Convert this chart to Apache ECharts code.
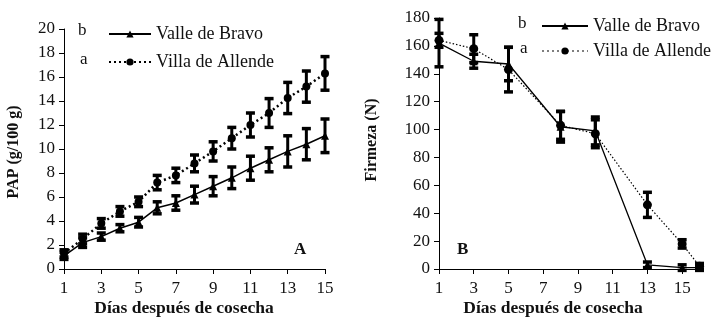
<!DOCTYPE html>
<html>
<head>
<meta charset="utf-8">
<script src="https://cdn.jsdelivr.net/npm/echarts@6.0.0/dist/echarts.min.js"></script>
<style>
  html, body { margin: 0; padding: 0; background: #fff; }
  #chart { width: 717px; height: 321px; }
</style>
</head>
<body>
<div id="chart"></div>
<script>
// panel A: PAP (g/100 g)
var diasA = [1, 2, 3, 4, 5, 6, 7, 8, 9, 10, 11, 12, 13, 14, 15];
var valleA = [1.1, 2.2, 2.7, 3.4, 3.9, 5.1, 5.5, 6.2, 6.9, 7.6, 8.4, 9.1, 9.8, 10.4, 11.1];
var valleAErr = [0.3, 0.4, 0.3, 0.3, 0.4, 0.5, 0.6, 0.7, 0.8, 0.9, 1.0, 1.0, 1.3, 1.3, 1.4];
var villaA = [1.3, 2.5, 3.8, 4.8, 5.6, 7.2, 7.8, 8.8, 9.8, 10.9, 12.0, 13.0, 14.25, 15.2, 16.3];
var villaAErr = [0.3, 0.4, 0.4, 0.4, 0.4, 0.6, 0.6, 0.7, 0.8, 0.9, 1.0, 1.2, 1.3, 1.3, 1.4];
// panel B: Firmeza (N)
var diasB = [1, 3, 5, 8, 10, 13, 15, 16];
var valleB = [162, 149, 147, 102, 99, 3, 1, 1];
var valleBErr = [17, 5, 12, 11, 10, 2, 2, 2];
var villaB = [164, 158, 143, 103, 97, 46, 18, 2];
var villaBErr = [5, 10, 16, 10, 10, 9, 3, 2];
var ticksX = [1, 3, 5, 7, 9, 11, 13, 15];

var serif = '"Liberation Serif", "Times New Roman", serif';
var ink = '#111';

function pares(x, y) {
    return x.map(function (d, i) { return [d, y[i]]; });
}
function barras(x, y, e) {
    return x.map(function (d, i) { return [d, y[i] - e[i], y[i] + e[i]]; });
}
function errorBar(params, api) {
    var top = api.coord([api.value(0), api.value(2)]);
    var bot = api.coord([api.value(0), api.value(1)]);
    var w = 4.5;
    var st = { stroke: '#000', lineWidth: 3 };
    var cap = { stroke: '#000', lineWidth: 3.5 };
    return {
        type: 'group',
        children: [
            { type: 'line', shape: { x1: top[0], y1: top[1], x2: bot[0], y2: bot[1] }, style: st },
            { type: 'line', shape: { x1: top[0] - w, y1: top[1], x2: top[0] + w, y2: top[1] }, style: cap },
            { type: 'line', shape: { x1: bot[0] - w, y1: bot[1], x2: bot[0] + w, y2: bot[1] }, style: cap }
        ]
    };
}

var axisTxt = { color: ink, fontFamily: serif, fontSize: 17 };
function ejeX(i, max) {
    return {
        type: 'value', gridIndex: i, min: 1, max: max, interval: 2,
        axisLine: { show: true, onZero: false, lineStyle: { color: '#000', width: 1 } },
        axisTick: { show: true, length: 5, customValues: ticksX, lineStyle: { color: '#000' } },
        axisLabel: Object.assign({ margin: 11, customValues: ticksX }, axisTxt),
        splitLine: { show: false }
    };
}
function ejeY(i, max, step) {
    return {
        type: 'value', gridIndex: i, min: 0, max: max, interval: step,
        axisLine: { show: true, lineStyle: { color: '#000', width: 1 } },
        axisTick: { show: true, length: 5, lineStyle: { color: '#000' } },
        axisLabel: Object.assign({ margin: 9 }, axisTxt),
        splitLine: { show: false }
    };
}

var dom = document.getElementById('chart');
var myChart = echarts.init(dom, null, { renderer: 'canvas' });
var option = {
    animation: false,
    backgroundColor: '#fff',
    textStyle: { fontFamily: serif },
    grid: [
        { left: 64, right: 392, top: 29, bottom: 52 },
        { left: 439, right: 14, top: 18, bottom: 52 }
    ],
    xAxis: [ejeX(0, 15), ejeX(1, 16.2)],
    yAxis: [ejeY(0, 20, 2), ejeY(1, 180, 20)],
    legend: [
        {
            left: 103, top: 20, orient: 'vertical', itemWidth: 42, itemHeight: 9, itemGap: 10,
            textStyle: { color: ink, fontFamily: serif, fontSize: 18, lineHeight: 18 },
            data: ['Valle de Bravo', 'Villa de Allende']
        },
        {
            left: 536, top: 12, orient: 'vertical', itemWidth: 46, itemHeight: 9, itemGap: 7,
            textStyle: { color: ink, fontFamily: serif, fontSize: 18, lineHeight: 18 },
            data: ['Valle de Bravo', { name: 'Villa de Allende', lineStyle: { width: 1.2 } }]
        }
    ],
    graphic: [
        { type: 'text', left: 78, top: 22, style: { text: 'b', fill: ink, font: '17px "Liberation Serif"' } },
        { type: 'text', left: 80, top: 51, style: { text: 'a', fill: ink, font: '17px "Liberation Serif"' } },
        { type: 'text', left: 518, top: 15, style: { text: 'b', fill: ink, font: '17px "Liberation Serif"' } },
        { type: 'text', left: 520, top: 40, style: { text: 'a', fill: ink, font: '17px "Liberation Serif"' } },
        { type: 'text', left: 294, top: 241, style: { text: 'A', fill: ink, font: 'bold 17px "Liberation Serif"' } },
        { type: 'text', left: 457, top: 241, style: { text: 'B', fill: ink, font: 'bold 17px "Liberation Serif"' } },
        { type: 'text', x: 184, y: 308, style: { text: 'Días después de cosecha', fill: ink, align: 'center', verticalAlign: 'middle', font: 'bold 17.5px "Liberation Serif"' } },
        { type: 'text', x: 553, y: 308, style: { text: 'Días después de cosecha', fill: ink, align: 'center', verticalAlign: 'middle', font: 'bold 17.5px "Liberation Serif"' } },
        { type: 'text', x: 14, y: 152, rotation: Math.PI / 2, style: { text: 'PAP (g/100 g)', fill: ink, align: 'center', verticalAlign: 'middle', font: 'bold 16px "Liberation Serif"' } },
        { type: 'text', x: 372, y: 140, rotation: Math.PI / 2, style: { text: 'Firmeza (N)', fill: ink, align: 'center', verticalAlign: 'middle', font: 'bold 16px "Liberation Serif"' } }
    ],
    series: [
        {
            name: 'Valle de Bravo', type: 'line', xAxisIndex: 0, yAxisIndex: 0,
            data: pares(diasA, valleA), symbol: 'triangle', symbolSize: 8,
            itemStyle: { color: '#000' }, lineStyle: { color: '#000', width: 1.5 }, z: 3
        },
        {
            name: 'Villa de Allende', type: 'line', xAxisIndex: 0, yAxisIndex: 0,
            data: pares(diasA, villaA), symbol: 'circle', symbolSize: 8,
            itemStyle: { color: '#000' }, lineStyle: { color: '#000', width: 2.5, type: [2, 3] }, z: 3
        },
        {
            name: 'Valle de Bravo', type: 'line', xAxisIndex: 1, yAxisIndex: 1,
            data: pares(diasB, valleB), symbol: 'triangle', symbolSize: 8,
            itemStyle: { color: '#000' }, lineStyle: { color: '#000', width: 1.3 }, z: 3
        },
        {
            name: 'Villa de Allende', type: 'line', xAxisIndex: 1, yAxisIndex: 1,
            data: pares(diasB, villaB), symbol: 'circle', symbolSize: 9,
            itemStyle: { color: '#000' }, lineStyle: { color: '#000', width: 1.2, type: [1.5, 2] }, z: 3
        },
        { type: 'custom', xAxisIndex: 0, yAxisIndex: 0, renderItem: errorBar, data: barras(diasA, valleA, valleAErr), encode: { x: 0, y: [1, 2] }, z: 4 },
        { type: 'custom', xAxisIndex: 0, yAxisIndex: 0, renderItem: errorBar, data: barras(diasA, villaA, villaAErr), encode: { x: 0, y: [1, 2] }, z: 4 },
        { type: 'custom', xAxisIndex: 1, yAxisIndex: 1, renderItem: errorBar, data: barras(diasB, valleB, valleBErr), encode: { x: 0, y: [1, 2] }, z: 4 },
        { type: 'custom', xAxisIndex: 1, yAxisIndex: 1, renderItem: errorBar, data: barras(diasB, villaB, villaBErr), encode: { x: 0, y: [1, 2] }, z: 4 }
    ]
};
if (option && typeof option === 'object') {
    myChart.setOption(option, true);
}
</script>
</body>
</html>
